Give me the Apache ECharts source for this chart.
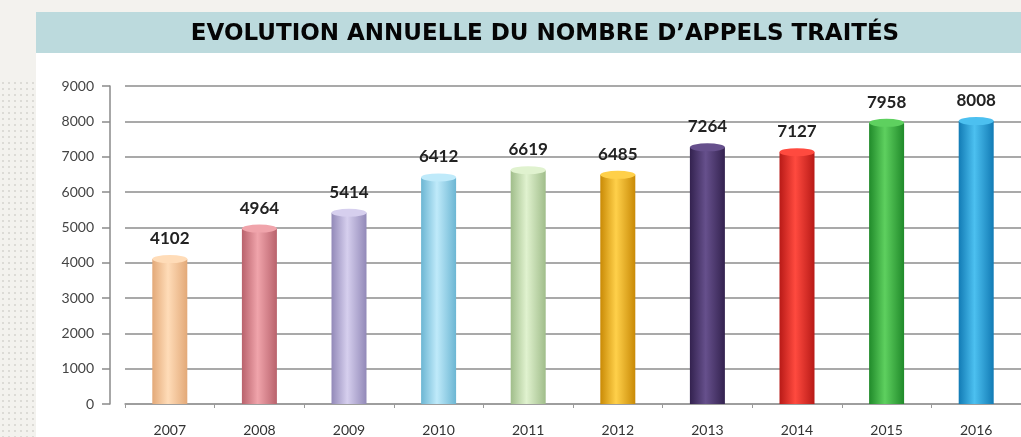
<!DOCTYPE html>
<html>
<head>
<meta charset="utf-8">
<script src="https://cdn.jsdelivr.net/npm/echarts@6/dist/echarts.min.js"></script>
<style>
    html, body {
        margin: 0;
        padding: 0;
        background: #f3f2ee;
    }
    .dots {
        position: absolute;
        left: 0;
        top: 80px;
        width: 34px;
        height: 357px;
        background-image: radial-gradient(circle, #dcdbd6 1px, transparent 1.3px);
        background-size: 6px 6px;
    }
    .chart {
        position: absolute;
        left: 0;
        top: 0;
        width: 1021px;
        height: 437px;
    }
</style>
</head>
<body>
<div class="dots"></div>
<div id="chart" class="chart"></div>
<script>
const years = ['2007', '2008', '2009', '2010', '2011', '2012', '2013', '2014', '2015', '2016'];
const appels = [4102, 4964, 5414, 6412, 6619, 6485, 7264, 7127, 7958, 8008];
const yTicks = [0, 1000, 2000, 3000, 4000, 5000, 6000, 7000, 8000, 9000];
// couleurs des cylindres : bord sombre, centre clair
const barColors = [
    ['#e3a978', '#ffdcb8'],
    ['#b9626c', '#f0a4ab'],
    ['#9289b8', '#d6cfee'],
    ['#6cb6d3', '#bfeafa'],
    ['#a0bd8a', '#e0f2cf'],
    ['#c98a06', '#ffd04a'],
    ['#33224f', '#66508c'],
    ['#b81a17', '#ff4a3f'],
    ['#208a2a', '#5ed05f'],
    ['#127bb5', '#4cc0f0'],
];

function cylinder(c) {
    return new echarts.graphic.LinearGradient(0, 0, 1, 0, [
        { offset: 0, color: c[0] },
        { offset: 0.45, color: c[1] },
        { offset: 1, color: c[0] },
    ]);
}

const myChart = echarts.init(document.getElementById('chart'));
const option = {
    animation: false,
    graphic: [
        {
            type: 'rect',
            shape: { x: 36, y: 53, width: 985, height: 384 },
            style: { fill: '#ffffff' },
            z: -10,
        },
        {
            type: 'rect',
            shape: { x: 36, y: 12, width: 985, height: 41 },
            style: { fill: '#bcdadd' },
            z: -10,
        },
        {
            type: 'text',
            x: 545,
            y: 34,
            style: {
                text: 'EVOLUTION ANNUELLE DU NOMBRE D\u2019APPELS TRAITÉS',
                fill: '#050505',
                font: 'bold 23px "DejaVu Sans", sans-serif',
                align: 'center',
                verticalAlign: 'middle',
            },
        },
    ],
    grid: {
        left: 125,
        right: 0,
        top: 86,
        bottom: 32,
    },
    xAxis: {
        type: 'category',
        data: years,
        axisLine: {
            lineStyle: { color: '#9a9a9a', width: 1.5 },
        },
        axisTick: {
            show: true,
            length: 4,
            lineStyle: { color: '#9a9a9a' },
        },
        axisLabel: {
            color: '#333',
            fontSize: 14,
            fontFamily: 'Lato, sans-serif',
            margin: 19,
        },
    },
    yAxis: {
        type: 'value',
        min: 0,
        max: 9000,
        interval: 1000,
        offset: 15,
        axisLine: {
            show: true,
            lineStyle: { color: '#8a8a8a', width: 1.5 },
        },
        axisTick: {
            show: true,
            length: 8,
            lineStyle: { color: '#8a8a8a', width: 1.5 },
        },
        axisLabel: {
            color: '#444',
            fontSize: 14,
            fontFamily: 'Lato, sans-serif',
            margin: 16,
            formatter: (v) => (yTicks.indexOf(v) >= 0 ? String(v) : ''),
        },
        splitLine: {
            show: true,
            lineStyle: { color: '#8c8c8c', width: 1.5 },
        },
    },
    series: [
        {
            type: 'bar',
            barWidth: 35,
            data: appels.map((v, i) => ({
                value: v,
                itemStyle: { color: cylinder(barColors[i]) },
            })),
            label: {
                show: true,
                position: 'top',
                distance: 12,
                color: '#222',
                fontSize: 17,
                fontWeight: 'bold',
                fontFamily: 'Lato, sans-serif',
            },
            z: 3,
        },
        {
            type: 'pictorialBar',
            symbol: 'circle',
            symbolSize: [35, 8],
            symbolPosition: 'end',
            symbolOffset: [0, '-50%'],
            silent: true,
            data: appels.map((v, i) => ({
                value: v,
                itemStyle: { color: barColors[i][1] },
            })),
            z: 4,
        },
    ],
};
myChart.setOption(option);
</script>
</body>
</html>
